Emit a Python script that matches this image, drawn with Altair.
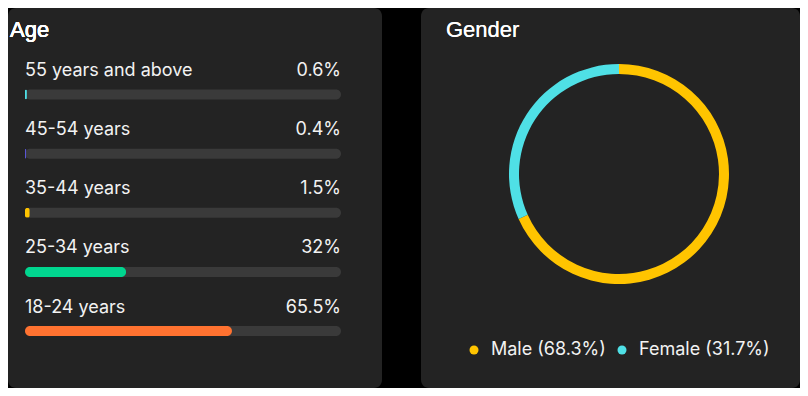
import altair as alt
import pandas as pd

# ---- data ----
age_groups = ["55 years and above", "45-54 years", "35-44 years", "25-34 years", "18-24 years"]
age_values = [0.6, 0.4, 1.5, 32, 65.5]
age_labels = ["0.6%", "0.4%", "1.5%", "32%", "65.5%"]
age_colors = ["#4fe0e6", "#5a55d6", "#ffc400", "#00d68f", "#ff7230"]

genders = ["Male", "Female"]
gender_values = [68.3, 31.7]
gender_colors = ["#ffc400", "#4fe0e6"]

BG = "#232323"
TRACK = "#3a3a3a"
LABEL_FONT = "Inter"
TITLE_FONT = "Liberation Sans"

age_df = pd.DataFrame({"group": age_groups, "value": age_values, "label": age_labels})
gender_df = pd.DataFrame({
    "gender": genders,
    "value": gender_values,
    "rank": list(range(len(genders))),
    "legend": [f"{g} ({v}%)" for g, v in zip(genders, gender_values)],
})

LW, RW, H = 374, 379, 380

xs = alt.Scale(domain=[0, 100], range=[17, 333])
ys = alt.Scale(type="point", domain=age_groups, range=[86.5, 323], padding=0)

base = alt.Chart(age_df)
track = base.mark_bar(size=10, cornerRadius=5, color=TRACK).encode(
    x=alt.datum(0, scale=xs, axis=None),
    x2=alt.datum(100),
    y=alt.Y("group:N", scale=ys, axis=None),
)
fill = base.mark_bar(size=10, cornerRadius=5).encode(
    x=alt.X("value:Q", scale=xs, axis=None),
    y=alt.Y("group:N", scale=ys, axis=None),
    color=alt.Color("group:N", scale=alt.Scale(domain=age_groups, range=age_colors), legend=None),
)
names = base.mark_text(align="left", baseline="alphabetic", dy=-18.5, fontSize=18,
                       font=LABEL_FONT, color="#f2f2f2").encode(
    x=alt.datum(0, scale=xs),
    y=alt.Y("group:N", scale=ys),
    text="group:N",
)
vals = base.mark_text(align="right", baseline="alphabetic", dy=-18.5, fontSize=18,
                      font=LABEL_FONT, color="#f2f2f2").encode(
    x=alt.datum(100, scale=xs),
    y=alt.Y("group:N", scale=ys),
    text="label:N",
)
age_title = alt.Chart(age_df).mark_text(align="left", baseline="alphabetic", fontSize=22,
                                       fontWeight="normal", font=TITLE_FONT, color="#ffffff").encode(
    x=alt.value(2), y=alt.value(29), text=alt.value("Age")
)
left = alt.layer(track, fill, names, vals, age_title).properties(width=LW, height=H)

donut = alt.Chart(gender_df).mark_arc(innerRadius=100, outerRadius=110).encode(
    theta=alt.Theta("value:Q", stack=True),
    order=alt.Order("rank:Q"),
    color=alt.Color("legend:N",
                    scale=alt.Scale(domain=list(gender_df["legend"]), range=gender_colors),
                    legend=alt.Legend(orient="none", legendX=44, legendY=333, direction="horizontal",
                                      title=None, symbolType="circle", symbolSize=81,
                                      symbolStrokeWidth=0, labelFont=LABEL_FONT, labelFontSize=18,
                                      labelColor="#f2f2f2", labelOffset=8, columnPadding=7)),
    x=alt.value(198),
    y=alt.value(166),
)
gender_title = alt.Chart(gender_df).mark_text(align="left", baseline="alphabetic", fontSize=22,
                                             fontWeight="normal", font=TITLE_FONT, color="#ffffff").encode(
    x=alt.value(25), y=alt.value(29), text=alt.value("Gender")
)
right = alt.layer(donut, gender_title).properties(width=RW, height=H)

chart = alt.hconcat(left, right, spacing=39).resolve_scale(color="independent").properties(
    padding=0, background="#000000"
).configure_view(fill=BG, stroke=None, cornerRadius=8)

chart.save("out.html", embed_options={"renderer": "svg", "actions": False})
